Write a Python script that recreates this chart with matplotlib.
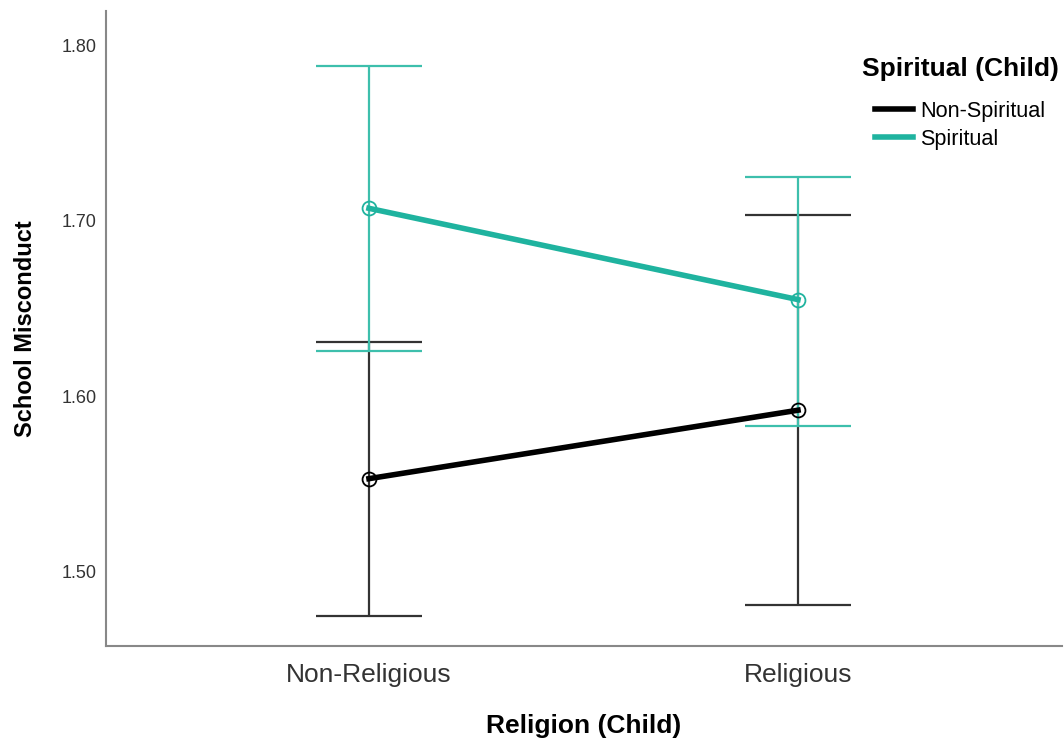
import matplotlib.pyplot as plt

plt.rcParams['font.family'] = ['Liberation Sans', 'DejaVu Sans']

# Estimated marginal means with 95% CI bounds
religion = ['Non-Religious', 'Religious']
groups = ['Non-Spiritual', 'Spiritual']
mean_non_spiritual = [1.553, 1.592]
low_non_spiritual = [1.475, 1.481]
high_non_spiritual = [1.631, 1.703]
mean_spiritual = [1.707, 1.655]
low_spiritual = [1.626, 1.583]
high_spiritual = [1.788, 1.725]

teal = '#1fb39f'
colors = ['black', teal]
bar_colors = ['#333333', '#3dbfac']

fig = plt.figure(figsize=(10.64, 7.43), dpi=100)
ax = fig.add_axes([0.0996, 0.1306, 0.8984, 0.8546])

x = list(range(len(religion)))
series = [
    (mean_non_spiritual, low_non_spiritual, high_non_spiritual),
    (mean_spiritual, low_spiritual, high_spiritual),
]
for i, (m, lo, hi) in enumerate(series):
    err = [[mm - l for mm, l in zip(m, lo)], [h - mm for mm, h in zip(m, hi)]]
    ax.errorbar(x, m, yerr=err, fmt='none', ecolor=bar_colors[i],
                elinewidth=1.6, capsize=38, capthick=1.6, zorder=2)
for i, (m, lo, hi) in enumerate(series):
    ax.plot(x, m, color=colors[i], lw=4, label=groups[i], zorder=3)
    ax.plot(x, m, 'o', ms=10, mfc='none', mec=colors[i], mew=1.3, zorder=4)

ax.set_xlim(-0.613, 1.615)
ax.set_ylim(1.4577, 1.8194)
ax.set_xticks(x)
ax.set_xticklabels(religion, fontsize=19, color='#333333')
ax.set_yticks([1.5, 1.6, 1.7, 1.8])
ax.set_yticklabels(['1.50', '1.60', '1.70', '1.80'], fontsize=13, color='#333333')
ax.tick_params(axis='x', length=0, pad=12)
ax.tick_params(axis='y', length=0, pad=6.5)

for side in ['top', 'right']:
    ax.spines[side].set_visible(False)
for side in ['left', 'bottom']:
    ax.spines[side].set_color('#888888')
    ax.spines[side].set_linewidth(1.5)

ax.set_xlabel('Religion (Child)', fontsize=19, fontweight='bold', labelpad=20)
ax.set_ylabel('School Misconduct', fontsize=17, fontweight='bold', va='center')
ax.yaxis.set_label_coords(-0.0845, 0.5)

# legend: title drawn separately so the gap to the entries matches
fig.text(0.81, 1 - 69 / 743, 'Spiritual (Child)', fontsize=19,
         fontweight='bold', ha='left', va='center')
ax.legend(loc='upper left', bbox_to_anchor=(0.8224, 0.864),
          bbox_transform=fig.transFigure, frameon=False, fontsize=15.6,
          handlelength=1.75, handletextpad=0.32, labelspacing=0.3,
          borderpad=0, borderaxespad=0)

fig.savefig('out.png', dpi=100)
